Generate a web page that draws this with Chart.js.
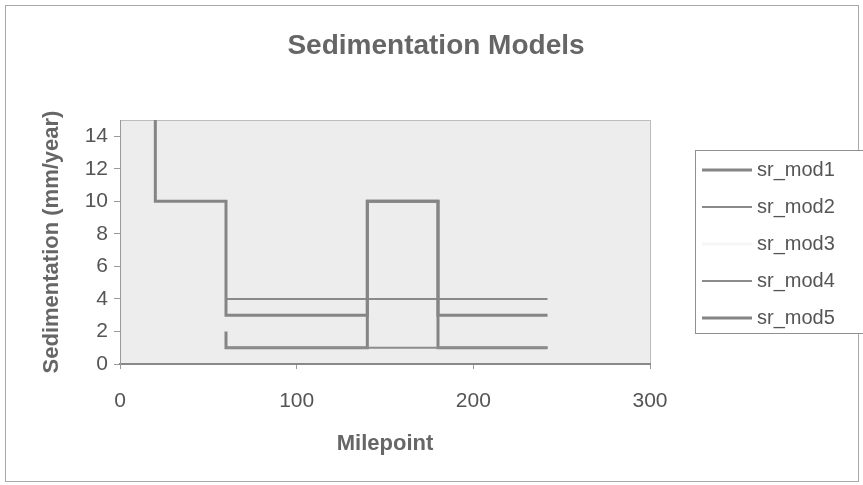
<!DOCTYPE html>
<html>
<head>
<meta charset="utf-8">
<script src="https://cdn.jsdelivr.net/npm/chart.js@4"></script>
<style>
  body { margin: 0; background: #fff; }
  #wrap { width: 863px; height: 485px; }
</style>
</head>
<body>
<div id="wrap"><canvas id="SedChart" width="863" height="485"></canvas></div>
<script>
// series data (milepoint, mm/year)
const seriesNames = ['sr_mod1', 'sr_mod2', 'sr_mod3', 'sr_mod4', 'sr_mod5'];
const mod1X = [20, 20, 60, 60, 140, 140, 180, 180, 242];
const mod1Y = [15, 10, 10, 3, 3, 10, 10, 3, 3];
const mod2X = [60, 242];
const mod2Y = [4, 4];
const mod3X = [60, 60, 242];
const mod3Y = [3, 2, 2];
const mod4X = [60, 242];
const mod4Y = [1, 1];
const mod5X = [60, 60, 140, 140, 180, 180, 242];
const mod5Y = [2, 1, 1, 10, 10, 1, 1];
const xTicks = [0, 100, 200, 300];
const yTicks = [0, 2, 4, 6, 8, 10, 12, 14];

const pts = (xs, ys) => xs.map((x, i) => ({ x: x, y: ys[i] }));
const lineColors = ['#858585', '#8a8a8a', '#ededed', '#8c8c8c', '#858585'];
const lineWidths = [3, 2, 3, 2, 3];
const drawOrder = [1, 2, 9, 3, 4]; // sr_mod3 sits under the others
const allData = [pts(mod1X, mod1Y), pts(mod2X, mod2Y), pts(mod3X, mod3Y), pts(mod4X, mod4Y), pts(mod5X, mod5Y)];

const frame = {
  id: 'frame',
  beforeDraw(chart) {
    const c = chart.ctx, a = chart.chartArea;
    c.save();
    c.strokeStyle = '#a8a8a8';
    c.lineWidth = 1;
    c.strokeRect(5.5, 5.5, 853, 476);
    c.fillStyle = '#ededed';
    c.fillRect(a.left, a.top, a.right - a.left, a.bottom - a.top);
    c.strokeStyle = '#bdbdbd';
    c.strokeRect(a.left + 0.5, a.top + 0.5, a.right - a.left, a.bottom - a.top);
    // title
    c.fillStyle = '#666';
    c.font = 'bold 28px "Liberation Sans", Arial, sans-serif';
    c.textAlign = 'center';
    c.textBaseline = 'middle';
    c.fillText('Sedimentation Models', 436, 46);
    c.restore();
  },
  afterDraw(chart) {
    const c = chart.ctx;
    c.save();
    c.fillStyle = '#fff';
    c.fillRect(695, 150, 170, 184);
    c.strokeStyle = '#8f8f8f';
    c.lineWidth = 1;
    c.strokeRect(695.5, 150.5, 175, 183);
    c.font = '20px "Liberation Sans", Arial, sans-serif';
    c.textBaseline = 'middle';
    c.textAlign = 'left';
    chart.data.datasets.forEach((ds, i) => {
      const y = 170 + i * 37;
      c.strokeStyle = i === 2 ? '#f6f6f6' : ds.borderColor;
      c.lineWidth = ds.borderWidth;
      c.beginPath();
      c.moveTo(702, y);
      c.lineTo(752, y);
      c.stroke();
      c.fillStyle = '#555';
      c.fillText(ds.label, 757, y);
    });
    c.restore();
  }
};

new Chart(document.getElementById('SedChart').getContext('2d'), {
  type: 'line',
  data: {
    datasets: seriesNames.map((name, i) => ({
      label: name,
      data: allData[i],
      borderColor: lineColors[i],
      borderWidth: lineWidths[i],
      order: drawOrder[i],
      pointRadius: 0,
      tension: 0,
      fill: false
    }))
  },
  options: {
    responsive: false,
    animation: false,
    layout: { padding: { left: 35, top: 120, right: 213, bottom: 24 } },
    plugins: { legend: { display: false }, tooltip: { enabled: false } },
    scales: {
      x: {
        type: 'linear',
        min: 0,
        max: 300,
        afterBuildTicks: s => { s.ticks = xTicks.map(v => ({ value: v })); },
        afterFit: s => { s.height = 97; },
        border: { color: '#888', width: 2 },
        grid: { drawOnChartArea: false, tickLength: 5, color: '#999' },
        ticks: { color: '#555', padding: 20, maxRotation: 0, font: { size: 21, family: '"Liberation Sans", Arial' } },
        title: { display: true, text: 'Milepoint', color: '#666', font: { size: 22, weight: 'bold', family: '"Liberation Sans", Arial' } }
      },
      y: {
        min: 0,
        max: 15,
        afterBuildTicks: s => { s.ticks = yTicks.map(v => ({ value: v })); },
        afterFit: s => { s.width = 85; },
        border: { color: '#999', width: 1 },
        grid: { drawOnChartArea: false, tickLength: 6, color: '#999' },
        ticks: { color: '#555', padding: 6, font: { size: 21, family: '"Liberation Sans", Arial' } },
        title: { display: true, text: 'Sedimentation (mm/year)', color: '#666', font: { size: 22, weight: 'bold', family: '"Liberation Sans", Arial' } }
      }
    }
  },
  plugins: [frame]
});
</script>
</body>
</html>
